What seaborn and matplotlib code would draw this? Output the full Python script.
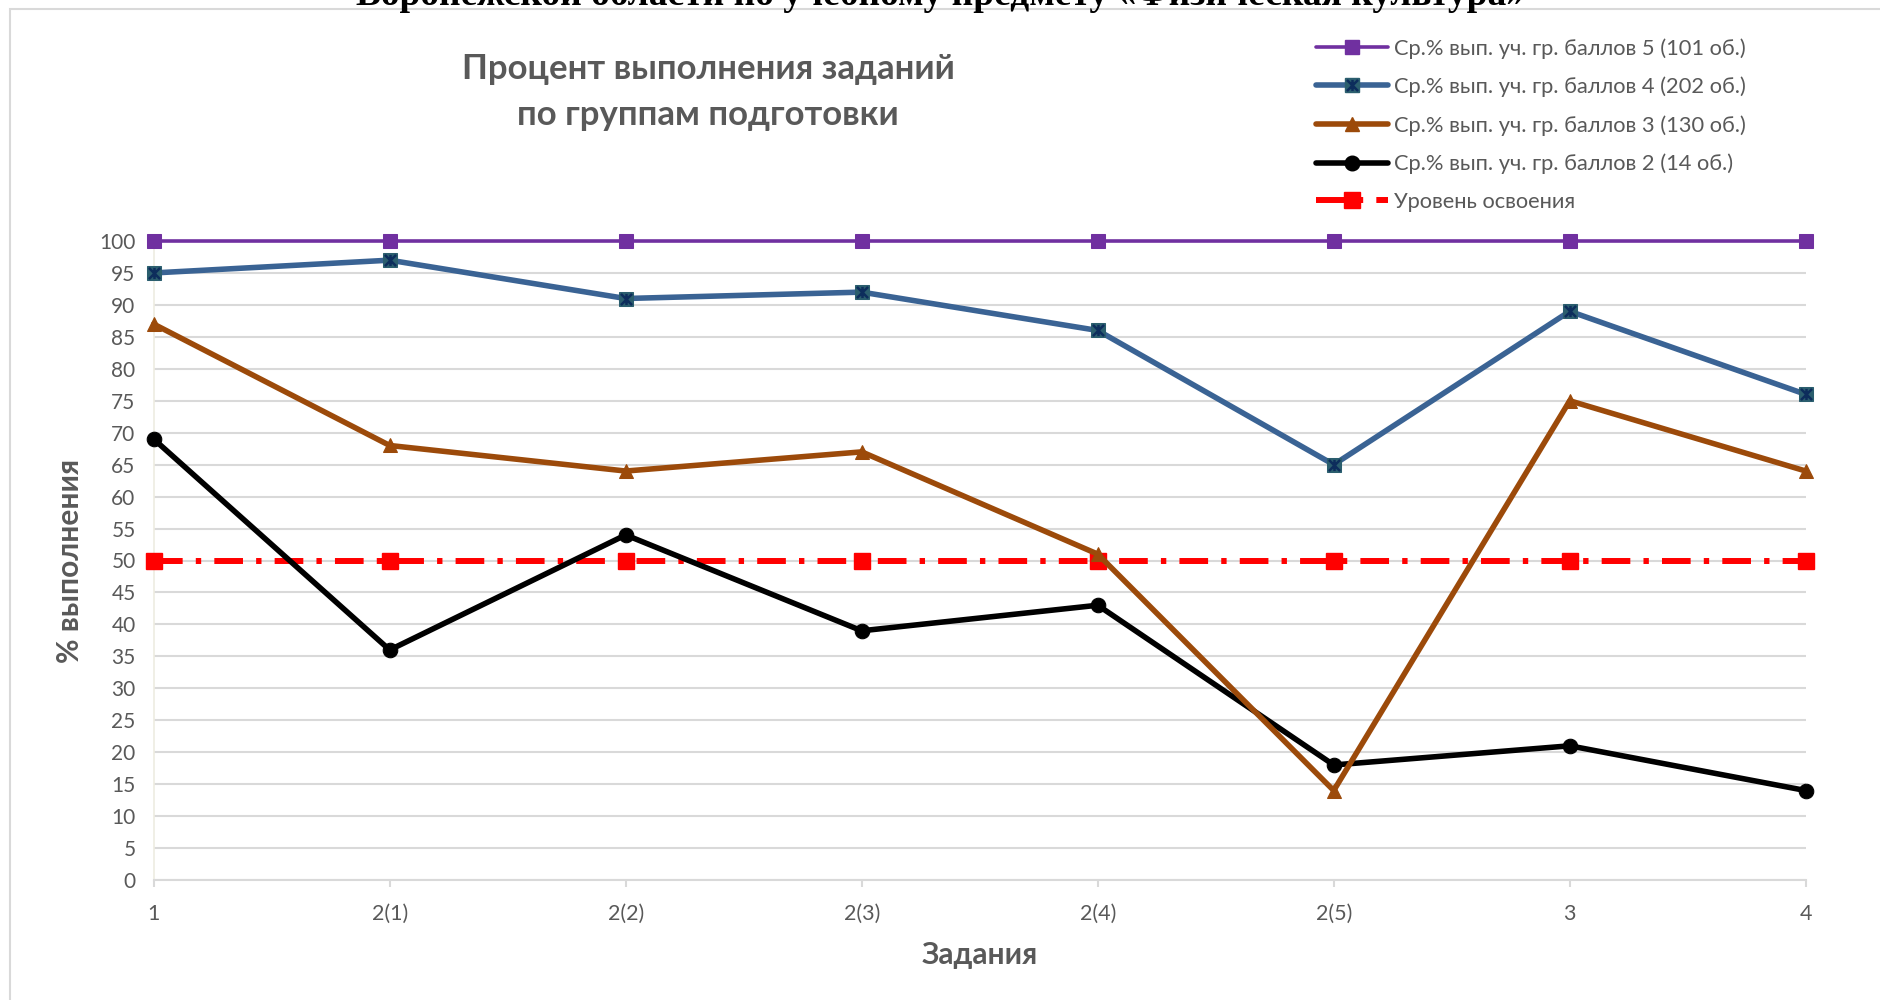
import matplotlib
matplotlib.use("Agg")

import numpy as np
import pandas as pd
import matplotlib.pyplot as plt
import seaborn as sns
from matplotlib.lines import Line2D
from matplotlib.path import Path
from matplotlib.patches import Rectangle
from matplotlib.legend_handler import HandlerTuple

sns.set_theme(style="white")
plt.rcParams["font.family"] = ["Lato", "DejaVu Sans"]

# ---- данные ----
zadaniya = ["1", "2(1)", "2(2)", "2(3)", "2(4)", "2(5)", "3", "4"]
gr5 = [100, 100, 100, 100, 100, 100, 100, 100]
gr4 = [95, 97, 91, 92, 86, 65, 89, 76]
gr3 = [87, 68, 64, 67, 51, 14, 75, 64]
gr2 = [69, 36, 54, 39, 43, 18, 21, 14]
uroven = [50, 50, 50, 50, 50, 50, 50, 50]

nazvaniya = [
    "Ср.% вып. уч. гр. баллов 5 (101 об.)",
    "Ср.% вып. уч. гр. баллов 4 (202 об.)",
    "Ср.% вып. уч. гр. баллов 3 (130 об.)",
    "Ср.% вып. уч. гр. баллов 2 (14 об.)",
    "Уровень освоения",
]

df = pd.DataFrame({"zadanie": zadaniya, "g5": gr5, "g4": gr4,
                   "g3": gr3, "g2": gr2, "ur": uroven})

SERYJ = "#595959"
LW = 4.0
DASH = (4.8, 2.2, 0.9, 2.2)
star = Path([(0, -1), (0, 1), (-1, -1), (1, 1), (-1, 1), (1, -1)],
            [Path.MOVETO, Path.LINETO, Path.MOVETO, Path.LINETO,
             Path.MOVETO, Path.LINETO])

fig = plt.figure(figsize=(18.81, 10), dpi=100)
ax = fig.add_axes([0.0817, 0.120, 0.8783, 0.639])

# рамка области диаграммы и обрезанный сверху заголовок документа
fig.patches.append(Rectangle((10 / 1881, -0.05), 1.2, 1 - 9 / 1000 + 0.05,
                             transform=fig.transFigure, fill=False,
                             edgecolor="#D9D9D9", linewidth=1.5))
fig.text(0.5, 1 - 5 / 1000,
         "Воронежской области по учебному предмету «Физическая культура»",
         ha="center", va="baseline", fontsize=27, fontweight="bold",
         family=["Liberation Serif", "DejaVu Serif"], color="black")

# линии
sns.lineplot(data=df, x="zadanie", y="ur", ax=ax, color="#FF0000",
             linewidth=4.3, zorder=3)
ax.lines[-1].set_dashes(DASH)
ax.lines[-1].set_dash_capstyle("butt")
ax.plot(range(len(zadaniya)), uroven, linestyle="none", marker="s",
        markersize=11, color="#FF0000", zorder=3, clip_on=False)

sns.lineplot(data=df, x="zadanie", y="g2", ax=ax, color="black",
             linewidth=LW, marker="o", markersize=10.5,
             markeredgecolor="black", zorder=4)
sns.lineplot(data=df, x="zadanie", y="g3", ax=ax, color="#9C4A0A",
             linewidth=LW, marker="^", markersize=10.5,
             markeredgecolor="#9C4A0A", zorder=5)
sns.lineplot(data=df, x="zadanie", y="g4", ax=ax, color="#3A6394",
             linewidth=LW, marker="s", markersize=10,
             markerfacecolor="#2B5E6E", markeredgecolor="#2B5E6E", zorder=6)
ax.plot(range(len(zadaniya)), gr4, linestyle="none", marker=star,
        markersize=8, markeredgewidth=1.8, color="#0D2D5C", zorder=7,
        clip_on=False)
sns.lineplot(data=df, x="zadanie", y="g5", ax=ax, color="#7030A0",
             linewidth=2.6, marker="s", markersize=10,
             markeredgecolor="#7030A0", zorder=8)

for ln in ax.lines:
    ln.set_clip_on(False)

# оси
ax.set_xlim(0, len(zadaniya) - 1)
ax.set_ylim(0, 100)
ax.set_yticks(np.arange(0, 101, 5))
ax.set_xticks(range(len(zadaniya)))
ax.set_xticklabels(zadaniya)
ax.grid(axis="y", color="#D9D9D9", linewidth=1.5)
ax.grid(axis="x", visible=False)
ax.set_axisbelow(True)
for s in ["top", "right"]:
    ax.spines[s].set_visible(False)
ax.spines["left"].set_color("#EEECE1")
ax.spines["left"].set_linewidth(1.2)
ax.spines["bottom"].set_color("#D9D9D9")
ax.spines["bottom"].set_linewidth(1.5)
ax.tick_params(axis="y", length=0, pad=13, labelsize=15, labelcolor=SERYJ)
ax.tick_params(axis="x", length=5, width=1.5, color="#D9D9D9", pad=12,
               labelsize=15.5, labelcolor=SERYJ, bottom=True)

ax.set_xlabel("Задания", fontsize=21.5, fontweight="bold", color=SERYJ)
ax.xaxis.set_label_coords(0.5, -75 / 639)
ax.xaxis.label.set_va("center")
ax.set_ylabel("% выполнения", fontsize=21.5, fontweight="bold", color=SERYJ)
ax.yaxis.set_label_coords(-83.6 / 1652, 0.5)
ax.yaxis.label.set_va("center")

fig.text(708 / 1881, 1 - 92 / 1000,
         "Процент выполнения заданий\nпо группам подготовки",
         ha="center", va="center", fontsize=25, fontweight="bold",
         color=SERYJ, linespacing=1.55)

# легенда
h5 = Line2D([], [], color="#7030A0", linewidth=2.6, marker="s", markersize=10)
h4a = Line2D([], [], color="#3A6394", linewidth=LW, marker="s", markersize=10,
             markerfacecolor="#2B5E6E", markeredgecolor="#2B5E6E")
h4b = Line2D([], [], linestyle="none", marker=star, markersize=8,
             markeredgewidth=1.8, color="#0D2D5C")
h3 = Line2D([], [], color="#9C4A0A", linewidth=LW, marker="^", markersize=10.5)
h2 = Line2D([], [], color="black", linewidth=LW, marker="o", markersize=10.5)
hu = Line2D([], [], color="#FF0000", linewidth=4.3, marker="s", markersize=11,
            dashes=DASH, dash_capstyle="butt")
leg = fig.legend([h5, (h4a, h4b), h3, h2, hu], nazvaniya,
                 loc="upper left", bbox_to_anchor=(1316 / 1881, 1 - 38 / 1000),
                 frameon=False, fontsize=15.75, labelcolor=SERYJ,
                 handlelength=3.3, handletextpad=0.25, labelspacing=0.82,
                 borderpad=0, borderaxespad=0,
                 handler_map={tuple: HandlerTuple(ndivide=1, pad=0)})

fig.savefig("out.png", dpi=100, facecolor="white")
